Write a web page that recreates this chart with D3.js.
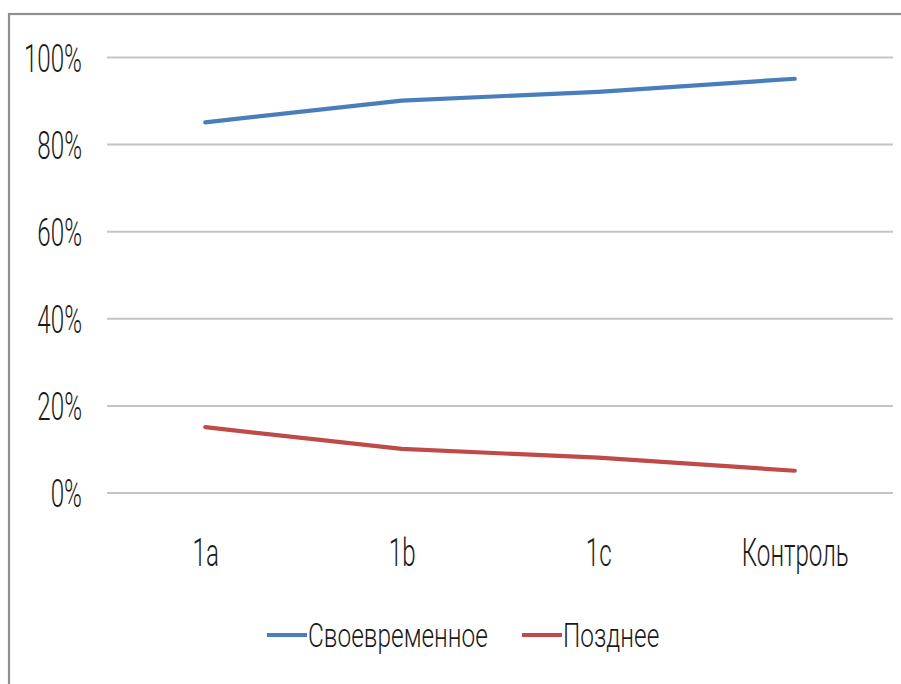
<!DOCTYPE html>
<html>
<head>
<meta charset="utf-8">
<script src="https://cdn.jsdelivr.net/npm/d3@7"></script>
<style>
  html, body { margin: 0; padding: 0; background: #fff; }
  svg { display: block; }
  text { font-family: Roboto, "Noto Sans", sans-serif; font-weight: 300; fill: #1a1a1a; }
</style>
</head>
<body>
<svg id="chart" width="901" height="684"></svg>
<script>
const categories = ["1a", "1b", "1c", "Контроль"];
const timely = [0.85, 0.90, 0.92, 0.95];
const late = [0.15, 0.10, 0.08, 0.05];
const yTicks = [0, 0.2, 0.4, 0.6, 0.8, 1.0];
const seriesNames = ["Своевременное", "Позднее"];
const seriesColors = ["#4a7ebb", "#be4b48"];

const svg = d3.select("#chart");
const W = 901, H = 684;
const sx = 0.62; // horizontal compression of axis text
const sxLegend = 0.74;

svg.append("rect").attr("width", W).attr("height", H).attr("fill", "#fff");
// outer chart border (extends off right and bottom)
svg.append("rect").attr("x", 9).attr("y", 14).attr("width", 920).attr("height", 700)
  .attr("fill", "none").attr("stroke", "#8f8f8f").attr("stroke-width", 2.2);

const x = d3.scalePoint().domain(categories).range([107, 893]).padding(0.5);
const y = d3.scaleLinear().domain([0, 1]).range([492.5, 57]);

// gridlines
const yAxis = d3.axisLeft(y).tickValues(yTicks).tickSize(0).tickFormat(d3.format(".0%"));
const gy = svg.append("g").attr("transform", "translate(107,0)").call(yAxis);
gy.select(".domain").remove();
gy.selectAll(".tick line").remove();
gy.selectAll(".tick").append("line")
  .attr("x1", 0).attr("x2", 786)
  .attr("stroke", "#c4c4c4").attr("stroke-width", 2);
gy.selectAll(".tick text")
  .attr("x", null).attr("dy", null)
  .attr("font-size", 39).attr("fill", "#1a1a1a")
  .attr("text-anchor", "end").attr("dominant-baseline", "central")
  .attr("transform", `translate(-25,1) scale(${sx},1)`);

// x axis labels
const xAxis = d3.axisBottom(x).tickSize(0);
const gx = svg.append("g").attr("transform", "translate(0,520)").call(xAxis);
gx.select(".domain").remove();
gx.selectAll(".tick text")
  .attr("y", null).attr("dy", null)
  .attr("font-size", 39).attr("fill", "#1a1a1a")
  .attr("text-anchor", "middle")
  .attr("transform", `translate(0,46) scale(${sx},1)`);

// lines
const line = d3.line().x((d, i) => x(categories[i])).y(d => y(d));
[timely, late].forEach((vals, k) => {
  svg.append("path").datum(vals)
    .attr("d", line)
    .attr("fill", "none")
    .attr("stroke", seriesColors[k])
    .attr("stroke-width", 4.2)
    .attr("stroke-linecap", "round")
    .attr("stroke-linejoin", "round");
});

// legend
const legendX = [267, 522];
const legend = svg.append("g");
seriesNames.forEach((name, k) => {
  const g = legend.append("g").attr("transform", `translate(${legendX[k]},635)`);
  g.append("line").attr("x1", 0).attr("x2", 40).attr("y1", 0).attr("y2", 0)
    .attr("stroke", seriesColors[k]).attr("stroke-width", 4.2);
  g.append("text").text(name)
    .attr("font-size", 33)
    .attr("transform", `translate(41,12) scale(${sxLegend},1)`);
});
</script>
</body>
</html>
